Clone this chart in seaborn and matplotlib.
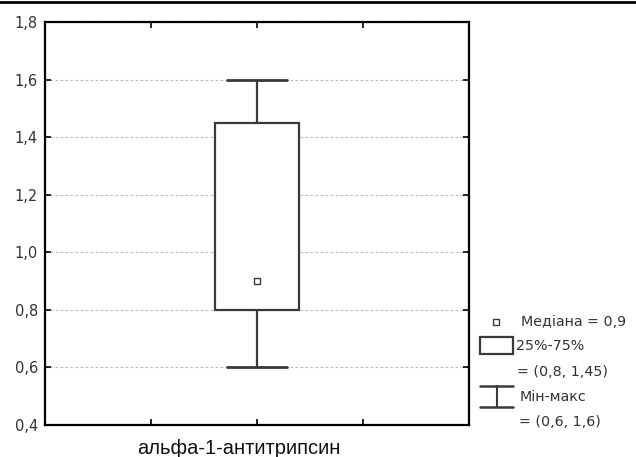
import pandas as pd
import seaborn as sns
import matplotlib.pyplot as plt
from matplotlib.patches import Rectangle
from matplotlib.ticker import FuncFormatter

marker = 'альфа-1-антитрипсин'
# min, q1, median, q3, max (5 points -> quartiles fall exactly on them)
values = [0.6, 0.8, 0.9, 1.45, 1.6]
median = [0.9]
yticks = [0.4, 0.6, 0.8, 1.0, 1.2, 1.4, 1.6, 1.8]
legend_texts = ['Медіана = 0,9', '25%-75%', '= (0,8, 1,45)', 'Мін-макс', '= (0,6, 1,6)']

df = pd.DataFrame({'marker': [marker] * len(values), 'value': values})
med_df = pd.DataFrame({'marker': [marker], 'value': median})

sns.set_style('white')
plt.rcParams['font.family'] = ['DejaVu Sans']

fig = plt.figure(figsize=(6.36, 4.57), dpi=100)
ax = fig.add_axes([45 / 636, 32 / 457, 424 / 636, 403 / 457])

line_col = '#3a3a3a'
sns.boxplot(data=df, x='marker', y='value', whis=(0, 100), width=0.4,
            color='white', linecolor=line_col, linewidth=1.6,
            medianprops={'linewidth': 0}, capprops={'linewidth': 2.0},
            capwidths=0.28, ax=ax)
sns.pointplot(data=med_df, x='marker', y='value', errorbar=None,
              markers='s', linestyles='none', color=line_col,
              markersize=4.5, markerfacecolor='white', markeredgewidth=1.0, ax=ax)

ax.set_xlim(-1, 1)
ax.set_ylim(0.4, 1.8)
ax.set_yticks(yticks)
ax.yaxis.set_major_formatter(FuncFormatter(lambda v, p: f'{v:.1f}'.replace('.', ',')))
ax.set_xticks([-0.5, 0, 0.5])
ax.set_xticklabels(['', '', ''])
ax.set_xlabel(marker, fontsize=14.5, family='Liberation Sans', color='#111111')
ax.xaxis.set_label_coords(0.458, -0.035)
ax.set_ylabel('')
ax.yaxis.grid(True, linestyle=(0, (2.5, 2)), color='#bcbcbc', linewidth=0.8)
ax.xaxis.grid(False)
ax.set_axisbelow(True)
ax.tick_params(direction='in', length=4, width=1.2, color='black',
               top=True, right=True, left=True, bottom=True, labelsize=10.5,
               labelcolor='#333333', pad=5)
for s in ax.spines.values():
    s.set_visible(True)
    s.set_color('black')
    s.set_linewidth(1.6)

# top frame line of the picture
fig.add_artist(plt.Line2D([0, 1], [1 - 2 / 457, 1 - 2 / 457], color='black', lw=2,
                          transform=fig.transFigure))

# legend, drawn in pixel coordinates
lax = fig.add_axes([0, 0, 1, 1], facecolor='none')
lax.set_xlim(0, 636)
lax.set_ylim(457, 0)
lax.axis('off')
lax.plot([496], [322], 's', ms=4.5, mfc='white', mec=line_col, mew=1.0)
lax.add_patch(Rectangle((480, 337), 33, 17, fill=False, ec=line_col, lw=1.6))
lax.plot([480, 513], [386, 386], color=line_col, lw=1.8)
lax.plot([496.5, 496.5], [386, 407], color=line_col, lw=1.5)
lax.plot([480, 513], [407, 407], color=line_col, lw=1.8)
text_pos = [(521, 322), (516, 346), (517, 372), (520, 397), (519, 422)]
for (x, y), t in zip(text_pos, legend_texts):
    lax.text(x, y, t, fontsize=10.3, color='#333333', va='center', ha='left')

fig.savefig('out.png', dpi=100)
